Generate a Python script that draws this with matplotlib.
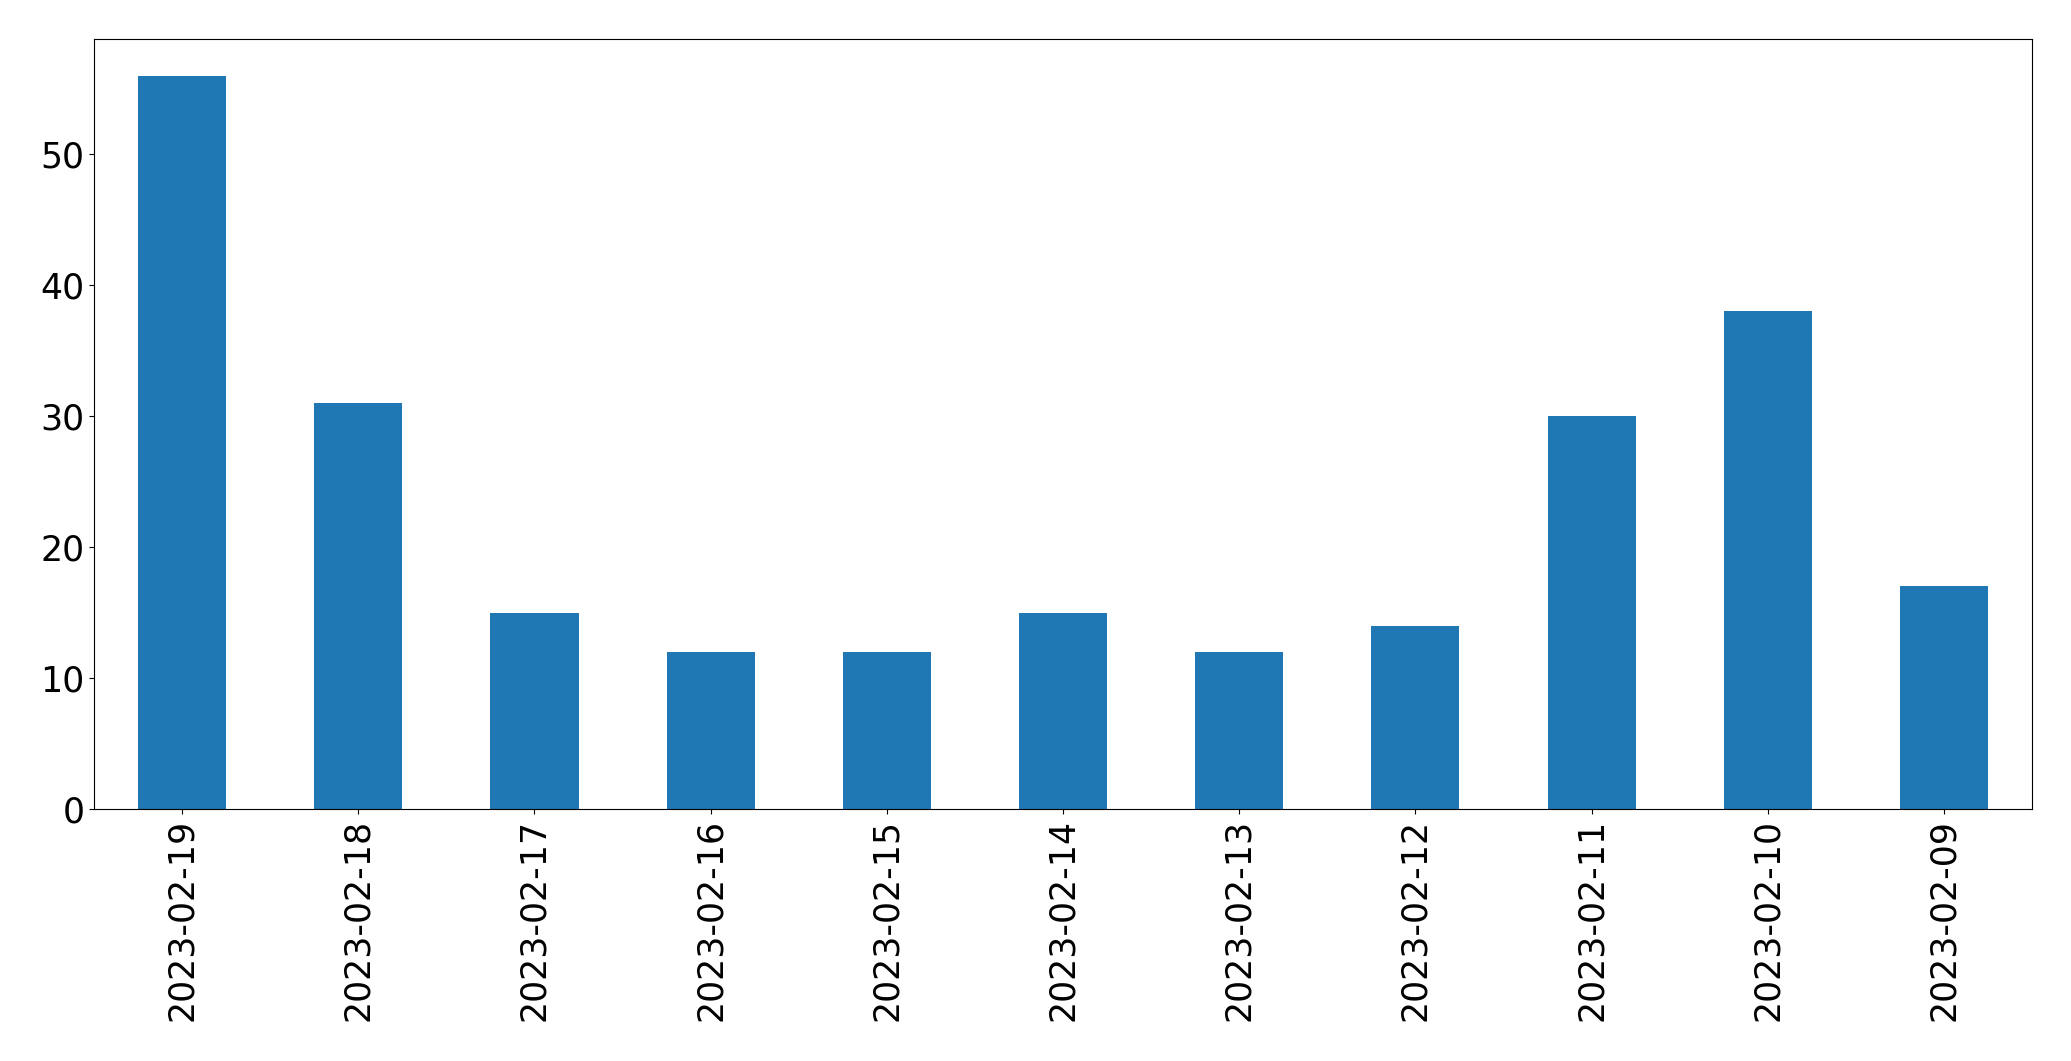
import matplotlib
matplotlib.use("Agg")
import matplotlib.pyplot as plt
import pandas as pd

dates = ["2023-02-19", "2023-02-18", "2023-02-17", "2023-02-16", "2023-02-15",
         "2023-02-14", "2023-02-13", "2023-02-12", "2023-02-11", "2023-02-10",
         "2023-02-09"]
counts = [56, 31, 15, 12, 12, 15, 12, 14, 30, 38, 17]


def main():
    series = pd.Series(counts, index=dates)

    fig = plt.figure(figsize=(20.71, 10.61), dpi=100)
    ax = fig.add_axes([0.0454, 0.2375, 0.9358, 0.7257])
    series.plot.bar(ax=ax, color="#1f77b4", width=0.5)
    ax.tick_params(axis="both", labelsize=25)
    ax.set_xlabel("")

    fig.savefig("out.png", dpi=100)


if __name__ == '__main__':
    main()
